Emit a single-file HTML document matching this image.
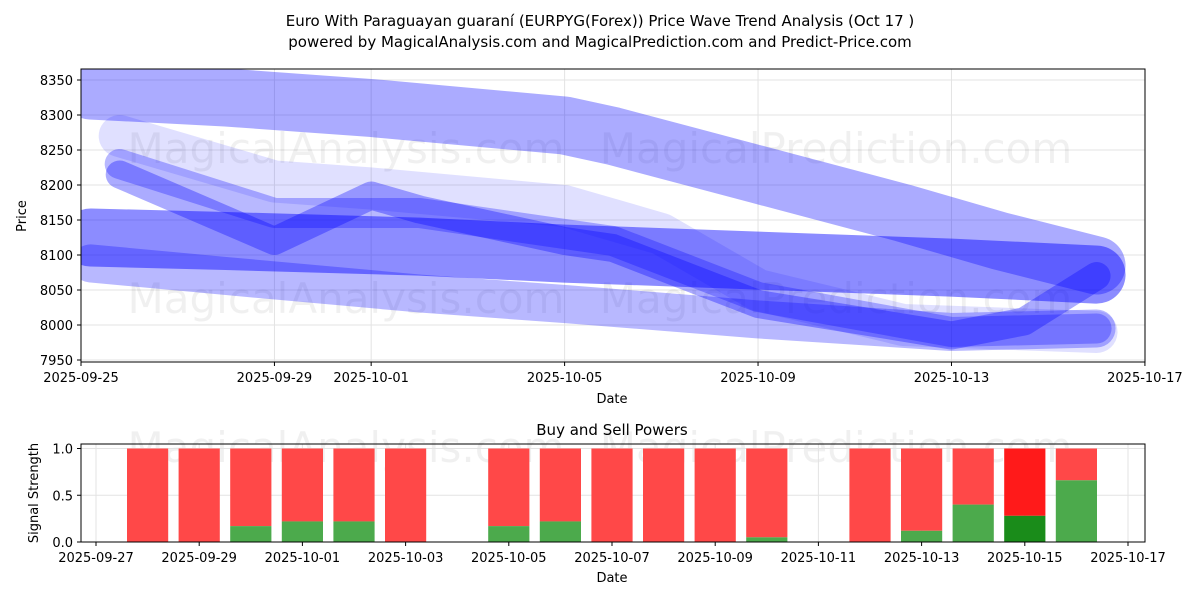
<!DOCTYPE html>
<html><head><meta charset="utf-8"><style>
body{margin:0;background:#fff;font-family:"Liberation Sans","DejaVu Sans",sans-serif}
text{font-family:"DejaVu Sans","Liberation Sans",sans-serif}
</style></head><body>
<svg id="chart" width="1200" height="600" xmlns="http://www.w3.org/2000/svg">
<text x="600" y="26" text-anchor="middle" font-size="15">Euro With Paraguayan guaraní (EURPYG(Forex)) Price Wave Trend Analysis (Oct 17 )</text>
<text x="600" y="47" text-anchor="middle" font-size="15">powered by MagicalAnalysis.com and MagicalPrediction.com and Predict-Price.com</text>
<g id="topg"></g>
<g id="bottomg"></g>
</svg>
<script>
const xTickLabels=["2025-09-25","2025-09-29","2025-10-01","2025-10-05","2025-10-09","2025-10-13","2025-10-17"];
const xTickDays=[0,4,6,10,14,18,22];
const yTicks=[7950,8000,8050,8100,8150,8200,8250,8300,8350];
const band1Days=[0.2,3,6,10,11,14,17,19,21];
const band1Vals=[8335,8325,8310,8285,8270,8215,8160,8120,8085];
const band2Days=[0.2,3,7,10,14,18,21];
const band2Vals=[8125,8120,8112,8102,8092,8082,8072];
const band3Days=[0.2,3,7,10,14,18,21];
const band3Vals=[8088,8070,8045,8030,8008,7990,7995];
const band4Days=[0.8,4,6,7,10,11,14,18,19.5,21];
const band4Vals=[8215,8120,8185,8165,8120,8110,8030,7985,8005,8070];
const band5Days=[0.8,4,6,10,12,14,17,21];
const band5Vals=[8270,8205,8195,8170,8130,8050,8000,7990];
const band6Days=[0.8,4,7,11,14,18,21];
const band6Vals=[8230,8160,8160,8120,8040,7990,7995];
const barDays=[1,2,3,4,5,6,8,9,10,11,12,13,15,16,17,18,19];
const buyVals=[0,0,0.17,0.22,0.22,0,0.17,0.22,0,0,0,0.05,0,0.12,0.4,0.28,0.66];
const bTickLabels=["2025-09-27","2025-09-29","2025-10-01","2025-10-03","2025-10-05","2025-10-07","2025-10-09","2025-10-11","2025-10-13","2025-10-15","2025-10-17"];
const bTickDays=[0,2,4,6,8,10,12,14,16,18,20];
const bYTicks=[0,0.5,1.0];

const NS="http://www.w3.org/2000/svg";
function mk(p,tag,at,txt){const e=document.createElementNS(NS,tag);for(const k in at)e.setAttribute(k,at[k]);if(txt!==undefined)e.textContent=txt;p.appendChild(e);return e;}
const topG=document.getElementById('topg'),botG=document.getElementById('bottomg');
const X=d=>81+d*48.36, Y=v=>360-(v-7950)*0.7;
const L=81,R=1145,T=69,B=362;
yTicks.forEach(v=>{const g=mk(topG,'line',{x1:L,x2:R,y1:Y(v),y2:Y(v),stroke:'#e3e3e3'});

const t=mk(topG,'text',{x:L-8,y:Y(v)+5,'text-anchor':'end','font-size':13},v);

mk(topG,'line',{x1:L-4,x2:L,y1:Y(v),y2:Y(v),stroke:'#000'});});
xTickDays.forEach((d,i)=>{const g=mk(topG,'line',{x1:X(d),x2:X(d),y1:T,y2:B,stroke:'#e3e3e3'});

mk(topG,'line',{x1:X(d),x2:X(d),y1:B,y2:B+4,stroke:'#000'});
const t=mk(topG,'text',{x:X(d),y:B+20,'text-anchor':'middle','font-size':13},xTickLabels[i]);
});
[[346,163],[836,163],[346,313],[836,313],[346,462],[836,462]].forEach(p=>{const t=mk(topG,'text',{x:p[0],y:p[1],'text-anchor':'middle','font-size':42,fill:'#000','fill-opacity':0.06},p[0]<500?'MagicalAnalysis.com':'MagicalPrediction.com');
});
const clip=mk(topG,'clipPath',{id:'cp'});mk(clip,'rect',{x:L,y:T,width:R-L+40,height:B-T});
const bg=mk(topG,'g',{'clip-path':'url(#cp)'});
function band(days,vals,w,col,op,name){const pts=days.map((d,i)=>X(d)+','+Y(vals[i])).join(' ');
const p=mk(bg,'polyline',{points:pts,fill:'none',stroke:col,'stroke-width':w,'stroke-opacity':op,'stroke-linejoin':'round','stroke-linecap':'round'});
}
band(band1Days,band1Vals,58,'#0000ff',0.33,'wave-band-upper');
band(band5Days,band5Vals,42,'#0000ff',0.12,'wave-band-light');
band(band2Days,band2Vals,58,'#0000ff',0.45,'wave-band-main');
band(band3Days,band3Vals,38,'#0000ff',0.28,'wave-band-lower');
band(band6Days,band6Vals,30,'#0000ff',0.28,'wave-band-mid');
band(band4Days,band4Vals,28,'#0000ff',0.33,'wave-band-wiggle');
mk(topG,'rect',{x:L,y:T,width:R-L,height:B-T,fill:'none',stroke:'#000'});
let t=mk(topG,'text',{x:612,y:403,'text-anchor':'middle','font-size':13},'Date');

t=mk(topG,'text',{x:26,y:216,'text-anchor':'middle','font-size':13,transform:'rotate(-90 26 216)'},'Price');

const BX=d=>96+d*51.6, BY=v=>542-v*93.5;
const bT=444,bB=542;
t=mk(botG,'text',{x:612,y:435,'text-anchor':'middle','font-size':15},'Buy and Sell Powers');

bYTicks.forEach(v=>{mk(botG,'line',{x1:L,x2:R,y1:BY(v),y2:BY(v),stroke:'#e3e3e3'});
mk(botG,'line',{x1:L-4,x2:L,y1:BY(v),y2:BY(v),stroke:'#000'});
const t=mk(botG,'text',{x:L-8,y:BY(v)+5,'text-anchor':'end','font-size':13},v.toFixed(1));
});
bTickDays.forEach((d,i)=>{mk(botG,'line',{x1:BX(d),x2:BX(d),y1:bT,y2:bB,stroke:'#e3e3e3'});
mk(botG,'line',{x1:BX(d),x2:BX(d),y1:bB,y2:bB+4,stroke:'#000'});
const t=mk(botG,'text',{x:BX(d),y:bB+20,'text-anchor':'middle','font-size':13},bTickLabels[i]);
});
barDays.forEach((d,i)=>{const dark=i===15;const x=BX(d)-20.6,w=41.2;
const r=mk(botG,'rect',{x:x,y:BY(1),width:w,height:BY(buyVals[i])-BY(1),fill:dark?'#ff1a1a':'#ff4848'});

const g=mk(botG,'rect',{x:x,y:BY(buyVals[i]),width:w,height:BY(0)-BY(buyVals[i]),fill:dark?'#1a8c1a':'#4caa4c'});
});
mk(botG,'rect',{x:L,y:bT,width:R-L,height:bB-bT,fill:'none',stroke:'#000'});
t=mk(botG,'text',{x:612,y:582,'text-anchor':'middle','font-size':13},'Date');

t=mk(botG,'text',{x:38,y:493,'text-anchor':'middle','font-size':13,transform:'rotate(-90 38 493)'},'Signal Strength');

</script>
</body></html>
